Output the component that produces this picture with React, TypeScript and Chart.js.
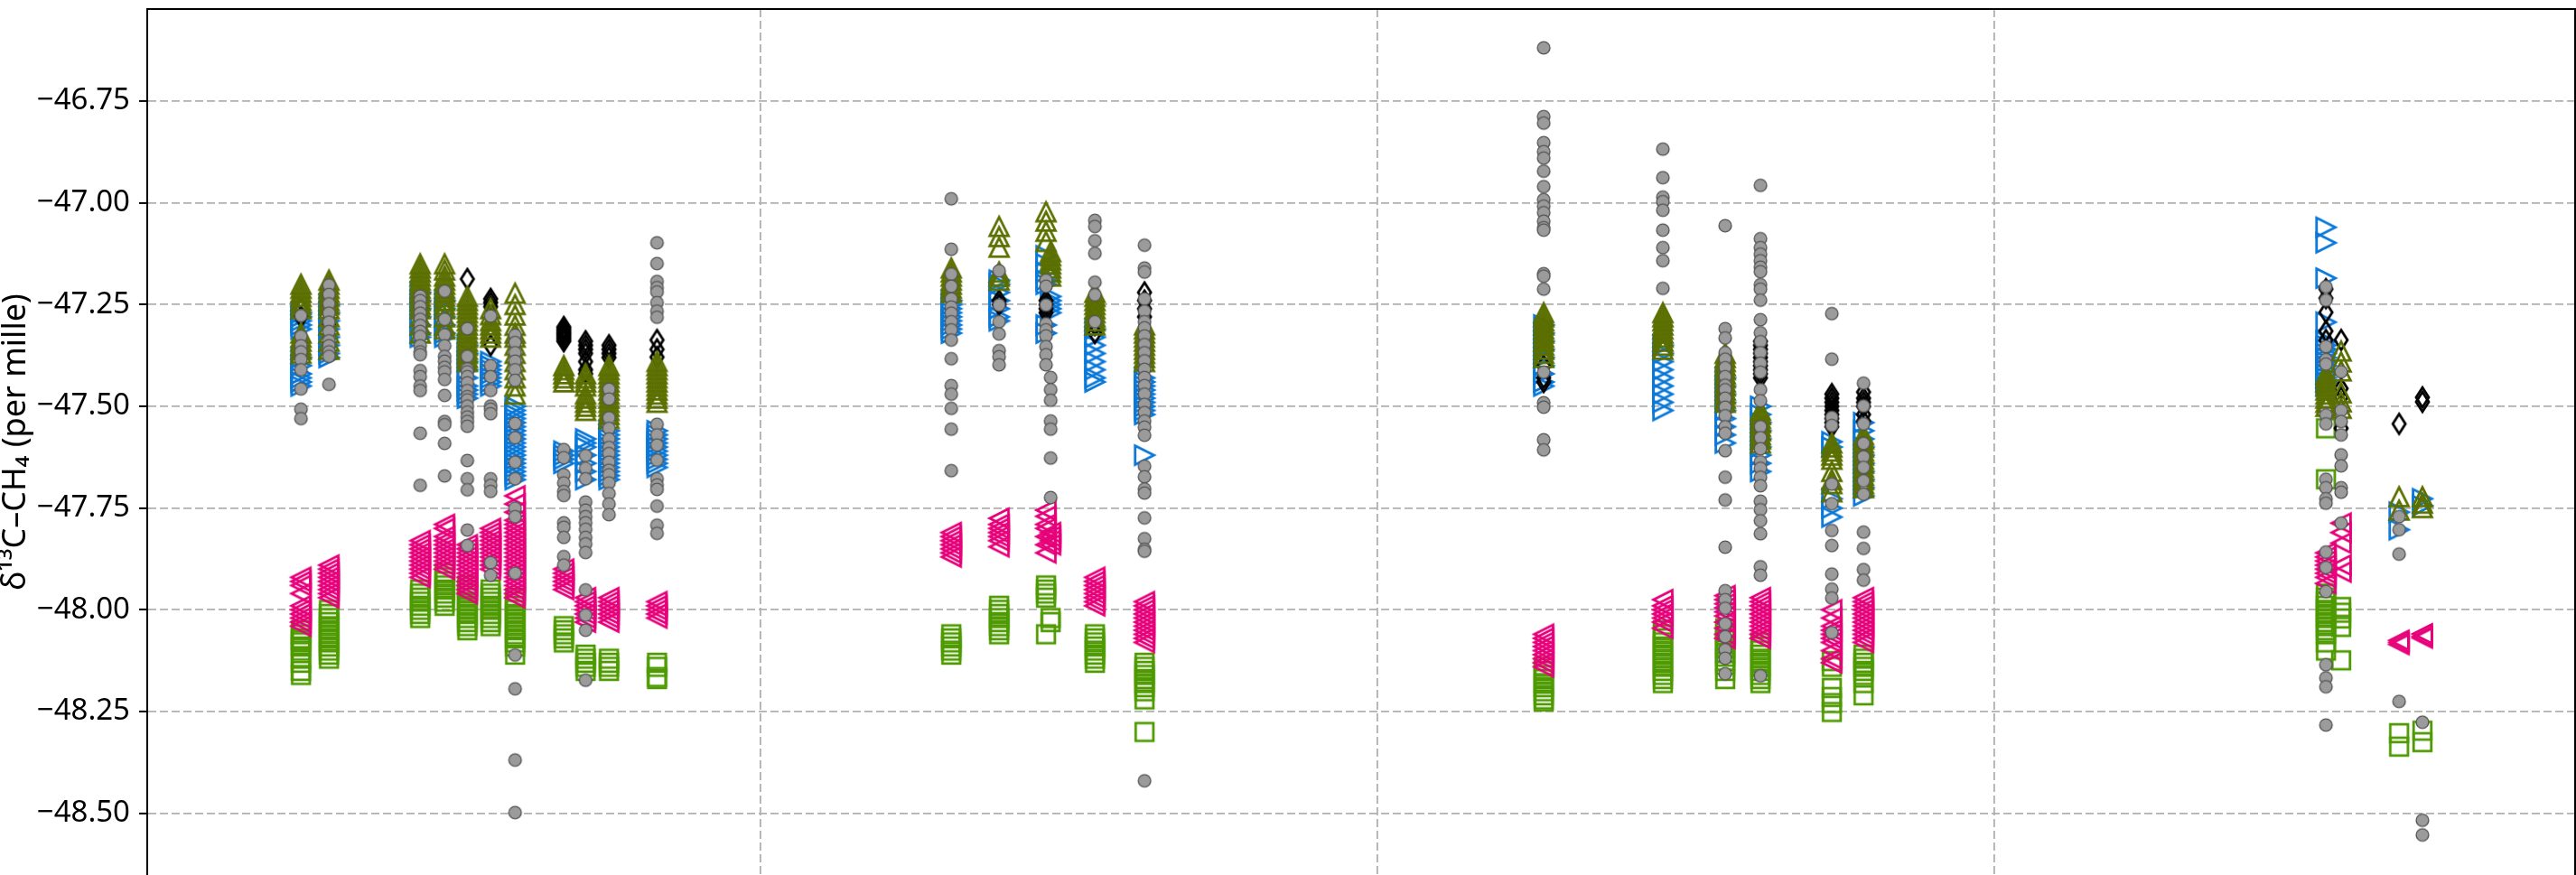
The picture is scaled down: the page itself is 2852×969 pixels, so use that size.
import React, { useEffect, useRef } from 'react';
import { Chart, registerables } from 'chart.js';

Chart.register(...registerables);

// ---- axis settings ----
const X_MIN = 0.15;
const X_MAX = 110.36;
const X_GRID = [28, 56, 84];
const Y_MIN = -48.6515;
const Y_MAX = -46.5237;
const Y_TICKS = [-46.75, -47.0, -47.25, -47.5, -47.75, -48.0, -48.25, -48.5];
const Y_TITLE = 'δ¹³C–CH₄ (per mille)';

// ---- sampling days (one per cluster) ----
const DAYS = [7.13, 8.40, 12.54, 13.65, 14.68, 15.74, 16.85, 19.06, 20.05, 21.11, 23.29, 36.65, 38.82, 40.95, 41.16, 43.17, 45.42, 63.54, 68.95, 71.78, 73.38, 76.62, 78.06, 99.05, 99.74, 102.37, 103.43];

// ---- series values, one list per day ----
const GRAY = [
  [-47.277, -47.328, -47.351, -47.366, -47.385, -47.410, -47.457, -47.507, -47.530],
  [-47.202, -47.225, -47.248, -47.271, -47.293, -47.316, -47.339, -47.351, -47.366, -47.377, -47.446],
  [-47.229, -47.240, -47.255, -47.271, -47.286, -47.301, -47.316, -47.328, -47.351, -47.366, -47.373, -47.412, -47.427, -47.450, -47.461, -47.566, -47.694],
  [-47.217, -47.286, -47.324, -47.351, -47.377, -47.389, -47.404, -47.415, -47.434, -47.473, -47.537, -47.545, -47.591, -47.671],
  [-47.309, -47.377, -47.408, -47.415, -47.427, -47.442, -47.461, -47.476, -47.484, -47.499, -47.514, -47.526, -47.537, -47.549, -47.633, -47.678, -47.705, -47.804, -47.842],
  [-47.278, -47.400, -47.427, -47.461, -47.499, -47.507, -47.518, -47.678, -47.694, -47.709, -47.884, -47.915],
  [-47.325, -47.343, -47.368, -47.389, -47.410, -47.436, -47.542, -47.577, -47.637, -47.678, -47.750, -47.771, -47.910, -48.111, -48.194, -48.369, -48.498],
  [-47.606, -47.626, -47.668, -47.688, -47.709, -47.719, -47.786, -47.797, -47.822, -47.869, -47.890],
  [-47.621, -47.652, -47.678, -47.735, -47.755, -47.771, -47.786, -47.802, -47.822, -47.838, -47.859, -47.951, -48.013, -48.050, -48.173],
  [-47.458, -47.482, -47.528, -47.554, -47.580, -47.601, -47.616, -47.637, -47.657, -47.668, -47.688, -47.714, -47.740, -47.766],
  [-47.098, -47.149, -47.193, -47.208, -47.219, -47.245, -47.266, -47.281, -47.544, -47.570, -47.595, -47.632, -47.678, -47.693, -47.704, -47.745, -47.792, -47.812],
  [-46.990, -47.114, -47.175, -47.205, -47.236, -47.256, -47.271, -47.292, -47.312, -47.337, -47.383, -47.449, -47.470, -47.505, -47.556, -47.658],
  [-47.167, -47.251, -47.292, -47.322, -47.363, -47.378, -47.398],
  [-47.190, -47.205, -47.251, -47.297, -47.312, -47.327, -47.353, -47.373, -47.398],
  [-47.429, -47.459, -47.485, -47.536, -47.556, -47.627, -47.724],
  [-47.043, -47.058, -47.093, -47.124, -47.195, -47.226, -47.292],
  [-47.104, -47.160, -47.170, -47.236, -47.266, -47.292, -47.307, -47.327, -47.348, -47.368, -47.388, -47.409, -47.429, -47.449, -47.470, -47.495, -47.515, -47.536, -47.551, -47.571, -47.647, -47.673, -47.703, -47.713, -47.774, -47.825, -47.851, -47.856, -48.420],
  [-46.619, -46.788, -46.804, -46.852, -46.874, -46.890, -46.922, -46.960, -46.992, -47.008, -47.024, -47.045, -47.061, -47.067, -47.174, -47.180, -47.212, -47.416, -47.491, -47.502, -47.582, -47.607],
  [-46.868, -46.938, -46.986, -46.997, -47.018, -47.067, -47.110, -47.142, -47.210],
  [-47.056, -47.309, -47.332, -47.368, -47.384, -47.405, -47.427, -47.448, -47.459, -47.480, -47.502, -47.523, -47.550, -47.566, -47.609, -47.674, -47.730, -47.846, -47.953, -47.975, -47.996, -48.034, -48.066, -48.098, -48.119, -48.157],
  [-46.957, -47.088, -47.110, -47.126, -47.142, -47.158, -47.169, -47.201, -47.212, -47.239, -47.287, -47.319, -47.341, -47.368, -47.394, -47.416, -47.459, -47.486, -47.550, -47.577, -47.604, -47.636, -47.652, -47.674, -47.695, -47.733, -47.754, -47.781, -47.813, -47.894, -47.915, -48.162],
  [-47.272, -47.384, -47.527, -47.547, -47.691, -47.739, -47.805, -47.842, -47.912, -47.949, -47.971, -48.056],
  [-47.443, -47.499, -47.543, -47.591, -47.624, -47.650, -47.683, -47.716, -47.809, -47.849, -47.901, -47.927],
  [-47.206, -47.239, -47.353, -47.385, -47.396, -47.521, -47.543, -47.679, -47.700, -47.727, -47.738, -47.858, -47.896, -47.955, -48.135, -48.167, -48.189, -48.283],
  [-47.415, -47.510, -47.537, -47.570, -47.619, -47.646, -47.700, -47.711, -47.787],
  [-47.771, -47.803, -47.863, -48.225],
  [-48.276, -48.517, -48.553],
];

const OLIVE = [
  [-47.20, -47.21, -47.22, -47.23, -47.24, -47.25, -47.26, -47.32, -47.33, -47.34, -47.35, -47.36, -47.37],
  [-47.19, -47.20, -47.21, -47.22, -47.23, -47.24, -47.25, -47.26, -47.28, -47.30, -47.32, -47.34, -47.36],
  [-47.15, -47.16, -47.17, -47.18, -47.19, -47.20, -47.21, -47.22, -47.23, -47.24, -47.25, -47.26, -47.28, -47.30, -47.32],
  [-47.15, -47.165, -47.18, -47.19, -47.20, -47.21, -47.22, -47.23, -47.24, -47.25, -47.26, -47.28, -47.30, -47.31],
  [-47.23, -47.24, -47.25, -47.26, -47.27, -47.28, -47.29, -47.30, -47.31, -47.32, -47.33, -47.34, -47.35, -47.36, -47.37, -47.38, -47.39],
  [-47.26, -47.275, -47.29, -47.30, -47.31, -47.32, -47.33],
  [-47.222, -47.250, -47.276, -47.301, -47.32, -47.33, -47.35, -47.37, -47.39, -47.41, -47.43, -47.45, -47.47],
  [-47.40, -47.41, -47.42, -47.43, -47.44],
  [-47.42, -47.43, -47.44, -47.45, -47.47, -47.48, -47.49, -47.50, -47.51],
  [-47.40, -47.41, -47.42, -47.43, -47.44, -47.45, -47.46, -47.47, -47.48, -47.49, -47.50, -47.51, -47.52, -47.53],
  [-47.39, -47.40, -47.41, -47.42, -47.43, -47.44, -47.45, -47.46, -47.47, -47.48, -47.49],
  [-47.16, -47.17, -47.18, -47.19, -47.20, -47.21, -47.22],
  [-47.058, -47.083, -47.109, -47.17, -47.18, -47.19],
  [-47.022, -47.045, -47.07, -47.095],
  [-47.12, -47.13, -47.14, -47.15, -47.16, -47.17, -47.18],
  [-47.22, -47.23, -47.24, -47.25, -47.26, -47.27, -47.28, -47.29, -47.30],
  [-47.30, -47.31, -47.32, -47.33, -47.34, -47.35, -47.36, -47.37, -47.38, -47.39],
  [-47.27, -47.28, -47.29, -47.30, -47.31, -47.32, -47.33, -47.34, -47.35, -47.36, -47.37, -47.38],
  [-47.27, -47.28, -47.29, -47.30, -47.31, -47.32, -47.33, -47.34, -47.35, -47.36],
  [-47.37, -47.38, -47.39, -47.40, -47.41, -47.42, -47.43, -47.44, -47.45, -47.46, -47.47, -47.48, -47.49],
  [-47.51, -47.52, -47.53, -47.54, -47.55, -47.56, -47.57, -47.58, -47.59],
  [-47.59, -47.60, -47.61, -47.62, -47.63, -47.66, -47.68, -47.69, -47.71],
  [-47.57, -47.58, -47.59, -47.60, -47.61, -47.62, -47.63, -47.64, -47.65, -47.66, -47.67, -47.68, -47.69, -47.70],
  [-47.42, -47.43, -47.44, -47.45, -47.46, -47.47, -47.48, -47.49, -47.50],
  [-47.364, -47.391, -47.413, -47.467, -47.489, -47.505],
  [-47.722, -47.755],
  [-47.722, -47.738, -47.749],
];

const BLUE = [
  [-47.27, -47.28, -47.29, -47.30, -47.31, -47.38, -47.40, -47.42, -47.43, -47.44, -47.45],
  [-47.25, -47.27, -47.29, -47.31, -47.33, -47.35, -47.37, -47.38],
  [-47.22, -47.24, -47.26, -47.28, -47.30, -47.32, -47.33],
  [-47.24, -47.26, -47.28, -47.30, -47.32, -47.33],
  [-47.35, -47.37, -47.39, -47.41, -47.43, -47.45, -47.46, -47.47, -47.48],
  [-47.39, -47.40, -47.41, -47.42, -47.43, -47.44, -47.45],
  [-47.50, -47.51, -47.52, -47.53, -47.54, -47.55, -47.56, -47.57, -47.58, -47.59, -47.60, -47.61, -47.62, -47.63, -47.64, -47.65, -47.66, -47.67, -47.68],
  [-47.61, -47.62, -47.63, -47.64],
  [-47.58, -47.59, -47.60, -47.62, -47.64, -47.66, -47.68],
  [-47.56, -47.57, -47.58, -47.59, -47.60, -47.61, -47.62, -47.63, -47.64, -47.65, -47.66, -47.67, -47.68],
  [-47.56, -47.57, -47.58, -47.59, -47.60, -47.61, -47.62, -47.63, -47.64, -47.65],
  [-47.24, -47.25, -47.26, -47.27, -47.28, -47.29, -47.30, -47.31, -47.32],
  [-47.19, -47.20, -47.22, -47.24, -47.26, -47.28, -47.29],
  [-47.13, -47.15, -47.17, -47.19, -47.20, -47.30, -47.32],
  [-47.23, -47.24, -47.25, -47.26, -47.27],
  [-47.31, -47.33, -47.35, -47.37, -47.39, -47.41, -47.43, -47.44],
  [-47.43, -47.44, -47.45, -47.46, -47.47, -47.48, -47.49, -47.50, -47.51, -47.52, -47.62],
  [-47.30, -47.32, -47.34, -47.36, -47.38, -47.40, -47.42, -47.44, -47.45],
  [-47.35, -47.37, -47.39, -47.41, -47.43, -47.45, -47.47, -47.49, -47.51],
  [-47.43, -47.45, -47.47, -47.49, -47.51, -47.53, -47.55, -47.57, -47.59],
  [-47.50, -47.52, -47.54, -47.56, -47.58, -47.60, -47.62, -47.64, -47.66],
  [-47.587, -47.60, -47.727, -47.75, -47.772],
  [-47.54, -47.56, -47.58, -47.60, -47.62, -47.64, -47.66, -47.68, -47.70, -47.72],
  [-47.060, -47.098, -47.185, -47.293, -47.34, -47.35, -47.36, -47.37, -47.38, -47.39, -47.40, -47.41, -47.42, -47.43, -47.44, -47.45],
  [],
  [-47.760, -47.803],
  [-47.727, -47.744],
];

const BLACK = [
  [-47.26, -47.28],
  [-47.30],
  [],
  [],
  [-47.187],
  [-47.236, -47.245, -47.255, -47.35],
  [],
  [-47.305, -47.31, -47.315, -47.32, -47.325, -47.33, -47.335, -47.34],
  [-47.34, -47.35, -47.36, -47.37, -47.39, -47.41, -47.42],
  [-47.35, -47.36, -47.37, -47.38],
  [-47.337, -47.36, -47.379],
  [],
  [-47.24, -47.25],
  [-47.24, -47.25, -47.26, -47.27],
  [],
  [-47.26, -47.28, -47.30, -47.32],
  [-47.22, -47.24, -47.26, -47.28],
  [-47.31, -47.33, -47.40, -47.43, -47.44],
  [],
  [-47.42, -47.45, -47.47],
  [-47.34, -47.35, -47.36, -47.37, -47.38, -47.39, -47.40, -47.41, -47.42, -47.43],
  [-47.47, -47.48, -47.49, -47.50, -47.51, -47.52, -47.53, -47.54, -47.55],
  [-47.465, -47.48, -47.49, -47.50, -47.52, -47.536],
  [-47.212, -47.234, -47.269, -47.315, -47.337],
  [-47.337, -47.456, -47.478, -47.554],
  [-47.543],
  [-47.478, -47.489],
];

const PINK = [
  [-47.92, -47.93, -47.94, -47.96, -47.99, -48.00, -48.01, -48.02, -48.03, -48.04],
  [-47.89, -47.90, -47.91, -47.92, -47.93, -47.94, -47.95, -47.96, -47.97],
  [-47.83, -47.84, -47.85, -47.86, -47.87, -47.88, -47.89, -47.90, -47.91, -47.92],
  [-47.79, -47.80, -47.82, -47.83, -47.84, -47.85, -47.86, -47.87, -47.88, -47.89, -47.90],
  [-47.84, -47.85, -47.86, -47.87, -47.88, -47.89, -47.90, -47.91, -47.92, -47.93, -47.94, -47.95, -47.96],
  [-47.80, -47.81, -47.82, -47.83, -47.84, -47.85, -47.86, -47.87, -47.88, -47.89, -47.90],
  [-47.72, -47.74, -47.76, -47.78, -47.79, -47.80, -47.81, -47.82, -47.83, -47.84, -47.85, -47.86, -47.87, -47.88, -47.89, -47.90, -47.91, -47.92, -47.93, -47.94, -47.95, -47.96, -47.97],
  [-47.90, -47.91, -47.92, -47.93, -47.94, -47.95],
  [-47.97, -47.98, -47.99, -48.00, -48.01, -48.02, -48.03],
  [-47.97, -47.98, -47.99, -48.00, -48.01, -48.02, -48.03],
  [-47.98, -47.99, -48.00, -48.01, -48.02],
  [-47.81, -47.82, -47.83, -47.84, -47.85, -47.86, -47.87],
  [-47.775, -47.79, -47.80, -47.81, -47.82, -47.83, -47.845],
  [-47.755, -47.77, -47.79, -47.80, -47.82, -47.84, -47.86],
  [-47.81, -47.82, -47.83, -47.84],
  [-47.92, -47.93, -47.94, -47.95, -47.96, -47.97, -47.98, -47.99],
  [-47.98, -47.99, -48.00, -48.01, -48.02, -48.03, -48.04, -48.05, -48.06, -48.07, -48.08],
  [-48.06, -48.07, -48.08, -48.09, -48.10, -48.11, -48.12, -48.13, -48.14],
  [-47.975, -47.99, -48.00, -48.01, -48.02, -48.03, -48.045],
  [-47.965, -47.975, -47.985, -47.995, -48.005, -48.015, -48.03, -48.045, -48.06, -48.07],
  [-47.97, -47.98, -47.99, -48.00, -48.01, -48.02, -48.03, -48.04, -48.05, -48.06, -48.07],
  [-48.00, -48.02, -48.04, -48.05, -48.06, -48.07, -48.08, -48.10, -48.12, -48.13],
  [-47.97, -47.98, -47.99, -48.00, -48.01, -48.02, -48.03, -48.04, -48.05, -48.06, -48.07, -48.08],
  [-47.86, -47.87, -47.88, -47.89, -47.90, -47.91, -47.92, -47.935],
  [-47.787, -47.81, -47.836, -47.89, -47.907],
  [-48.075, -48.08, -48.085],
  [-48.059, -48.065, -48.069],
];

const GREEN = [
  [-48.05, -48.06, -48.07, -48.075, -48.08, -48.09, -48.10, -48.12, -48.13, -48.15, -48.16],
  [-48.00, -48.01, -48.02, -48.03, -48.04, -48.05, -48.06, -48.07, -48.08, -48.09, -48.10, -48.11, -48.12],
  [-47.95, -47.96, -47.97, -47.98, -47.99, -48.00, -48.01, -48.02],
  [-47.91, -47.92, -47.93, -47.94, -47.95, -47.96, -47.97, -47.98, -47.99],
  [-47.94, -47.95, -47.96, -47.97, -47.98, -47.99, -48.00, -48.01, -48.02, -48.03, -48.04, -48.05],
  [-47.95, -47.96, -47.97, -47.98, -47.99, -48.00, -48.01, -48.02, -48.03, -48.04],
  [-47.97, -47.98, -47.99, -48.00, -48.01, -48.02, -48.03, -48.04, -48.05, -48.06, -48.07, -48.08, -48.09, -48.11],
  [-48.04, -48.05, -48.06, -48.07, -48.08],
  [-48.11, -48.12, -48.13, -48.14, -48.15],
  [-48.12, -48.13, -48.14, -48.15],
  [-48.13, -48.14, -48.165, -48.17],
  [-48.06, -48.07, -48.08, -48.09, -48.10, -48.11],
  [-47.99, -48.00, -48.01, -48.02, -48.03, -48.04, -48.05, -48.06],
  [-47.94, -47.95, -47.96, -47.97, -48.06],
  [-48.02, -48.03],
  [-48.06, -48.07, -48.08, -48.09, -48.10, -48.11, -48.12, -48.13],
  [-48.13, -48.14, -48.15, -48.16, -48.17, -48.18, -48.19, -48.20, -48.22, -48.30],
  [-48.14, -48.15, -48.16, -48.17, -48.18, -48.19, -48.20, -48.21, -48.22, -48.225],
  [-48.05, -48.06, -48.07, -48.08, -48.09, -48.10, -48.11, -48.12, -48.13, -48.14, -48.15, -48.16, -48.17, -48.18],
  [-48.045, -48.055, -48.065, -48.075, -48.085, -48.095, -48.105, -48.115, -48.125, -48.135, -48.15, -48.17],
  [-48.08, -48.09, -48.10, -48.11, -48.12, -48.13, -48.14, -48.15, -48.16, -48.17, -48.18],
  [-48.126, -48.14, -48.192, -48.214, -48.229, -48.251],
  [-48.11, -48.12, -48.13, -48.14, -48.15, -48.16, -48.18, -48.21],
  [-47.554, -47.679, -47.96, -47.97, -47.98, -47.99, -48.00, -48.01, -48.02, -48.03, -48.04, -48.05, -48.06, -48.08, -48.10],
  [-47.993, -48.007, -48.021, -48.042, -48.124],
  [-48.303, -48.336],
  [-48.297, -48.325],
];

function toPoints(groups: number[][]) {
  const pts: { x: number; y: number }[] = [];
  groups.forEach((ys, i) => ys.forEach((y) => pts.push({ x: DAYS[i], y })));
  return pts;
}

function marker(kind: string, stroke: string, fill?: string, lw = 2.8): HTMLCanvasElement {
  const S = 34;
  const c = document.createElement('canvas');
  c.width = S;
  c.height = S;
  const g = c.getContext('2d')!;
  const m = S / 2;
  const h = 10.4;
  g.lineWidth = lw;
  g.strokeStyle = stroke;
  g.lineJoin = 'miter';
  g.beginPath();
  if (kind === 'circle') g.arc(m, m, 6.9, 0, Math.PI * 2);
  else if (kind === 'up') { g.moveTo(m, m - h); g.lineTo(m + h, m + h); g.lineTo(m - h, m + h); g.closePath(); }
  else if (kind === 'right') { g.moveTo(m + h, m); g.lineTo(m - h, m + h); g.lineTo(m - h, m - h); g.closePath(); }
  else if (kind === 'left') { g.moveTo(m - h, m); g.lineTo(m + h, m - h); g.lineTo(m + h, m + h); g.closePath(); }
  else if (kind === 'square') g.rect(m - 9.8, m - 9.8, 19.6, 19.6);
  else if (kind === 'diamond') { g.moveTo(m, m - 11); g.lineTo(m + 7, m); g.lineTo(m, m + 11); g.lineTo(m - 7, m); g.closePath(); }
  if (fill) { g.fillStyle = fill; g.fill(); }
  g.stroke();
  return c;
}

const fmt = (v: number) => (v < 0 ? '\u2212' : '') + Math.abs(v).toFixed(2);

const framePlugin = {
  id: 'frame',
  afterDraw(chart: any) {
    const { ctx, chartArea: a } = chart;
    ctx.save();
    ctx.strokeStyle = '#000';
    ctx.lineWidth = 2;
    ctx.beginPath();
    ctx.moveTo(a.left, a.top);
    ctx.lineTo(a.right, a.top);
    ctx.lineTo(a.right, a.bottom + 5);
    ctx.stroke();
    ctx.restore();
  },
};

export default function App() {
  const ref = useRef<HTMLCanvasElement>(null);
  useEffect(() => {
    document.body.style.margin = '0';
    document.body.style.overflow = 'hidden';
    const canvas = ref.current!;
    const mk = {
      gray: marker('circle', '#555555', '#9b9b9b', 1.4),
      olive: marker('up', '#5c7000'),
      blue: marker('right', '#0a78d8'),
      black: marker('diamond', '#000000'),
      pink: marker('left', '#e6007a'),
      green: marker('square', '#4e9a00'),
    };
    const ds = (label: string, groups: number[][], style: HTMLCanvasElement, order: number) => ({
      label,
      data: toPoints(groups),
      pointStyle: style,
      pointRadius: 8,
      pointHoverRadius: 8,
      order,
    });
    const chart = new Chart(canvas, {
      type: 'scatter',
      data: {
        datasets: [
          ds('gray', GRAY, mk.gray, 0),
          ds('olive', OLIVE, mk.olive, 1),
          ds('black', BLACK, mk.black, 2),
          ds('blue', BLUE, mk.blue, 3),
          ds('pink', PINK, mk.pink, 4),
          ds('green', GREEN, mk.green, 5),
        ] as any,
      },
      options: {
        animation: false,
        responsive: false,
        maintainAspectRatio: false,
        events: [],
        layout: { padding: { top: 10, right: 1, bottom: 0, left: 0 }, autoPadding: false } as any,
        plugins: { legend: { display: false }, tooltip: { enabled: false } },
        scales: {
          x: {
            type: 'linear',
            position: 'bottom',
            min: X_MIN,
            max: X_MAX,
            ticks: { display: false },
            grid: { color: '#b0b0b0', lineWidth: 1.8, drawTicks: false },
            border: { display: false, dash: [9, 4] },
            afterBuildTicks: (s: any) => { s.ticks = X_GRID.map((v) => ({ value: v })); },
            afterFit: (s: any) => { s.height = 0; s.paddingLeft = 0; s.paddingRight = 0; },
          },
          y: {
            type: 'linear',
            position: 'left',
            min: Y_MIN,
            max: Y_MAX,
            ticks: {
              color: '#000',
              padding: 10,
              font: { family: 'Noto Sans', size: 33 },
              callback: (v: any) => fmt(Number(v)),
            },
            grid: { color: '#b0b0b0', lineWidth: 1.8, tickColor: '#000', tickLength: 9, tickWidth: 2 },
            border: { display: true, color: '#000', width: 2, dash: [9, 4] },
            title: {
              display: true,
              text: Y_TITLE,
              color: '#000',
              padding: 0,
              font: { family: 'Noto Sans', size: 36, lineHeight: 1 },
            },
            afterBuildTicks: (s: any) => { s.ticks = Y_TICKS.map((v) => ({ value: v })); },
            afterFit: (s: any) => { s.width = 163; s.paddingTop = 0; s.paddingBottom = 0; },
          },
        },
      } as any,
      plugins: [framePlugin],
    });
    return () => chart.destroy();
  }, []);
  return (
    <div style={{ position: 'absolute', left: 0, top: 0, width: 2852, height: 969 }}>
      <canvas ref={ref} width={2852} height={969} style={{ display: 'block', width: 2852, height: 969 }} />
    </div>
  );
}
